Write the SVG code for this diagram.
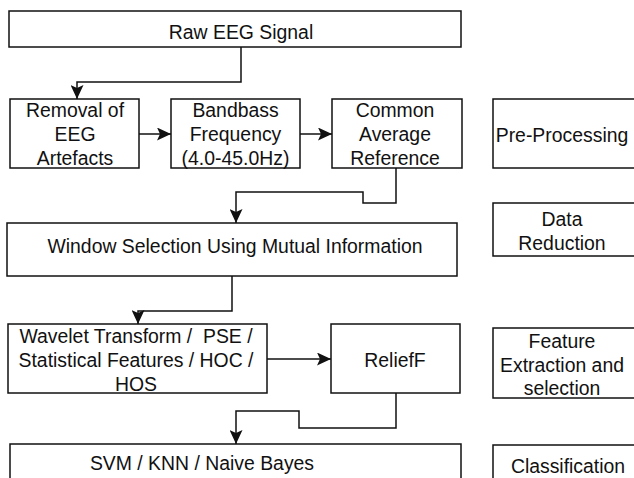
<svg xmlns="http://www.w3.org/2000/svg" width="634" height="478" viewBox="0 0 634 478">
  <style>
    .box { fill: #ffffff; stroke: #111111; stroke-width: 1.5; }
    .lbl { font-family: "Liberation Sans", Arial, Helvetica, sans-serif; font-size: 19.4px; fill: #111111; text-anchor: middle; white-space: pre; }
    .edge { fill: none; stroke: #111111; stroke-width: 1.5; }
  </style>
  <defs>
    <marker id="arrow" markerUnits="userSpaceOnUse" markerWidth="15" markerHeight="13" refX="14" refY="6.5" orient="auto">
      <path d="M0,0 L14,6.5 L0,13 L3,6.5 Z" fill="#111111"/>
    </marker>
  </defs>

  <rect width="634" height="478" fill="#ffffff"/>

  <!-- pipeline steps -->
  <g id="raw-eeg">
    <rect class="box" x="9" y="11" width="452" height="36"/>
    <text class="lbl" x="241" y="38.5">Raw EEG Signal</text>
  </g>
  <g id="removal-artefacts">
    <rect class="box" x="10" y="99" width="129" height="69"/>
    <text class="lbl" x="75" y="117">Removal of</text>
    <text class="lbl" x="75" y="141">EEG</text>
    <text class="lbl" x="75" y="165">Artefacts</text>
  </g>
  <g id="bandpass">
    <rect class="box" x="171" y="99" width="129" height="69"/>
    <text class="lbl" x="235.5" y="117">Bandbass</text>
    <text class="lbl" x="235.5" y="141">Frequency</text>
    <text class="lbl" x="235.5" y="165">(4.0-45.0Hz)</text>
  </g>
  <g id="car">
    <rect class="box" x="332" y="99" width="130" height="69"/>
    <text class="lbl" x="395" y="117">Common</text>
    <text class="lbl" x="395" y="141">Average</text>
    <text class="lbl" x="395" y="165">Reference</text>
  </g>
  <g id="window-selection">
    <rect class="box" x="7" y="223" width="450" height="53"/>
    <text class="lbl" x="235" y="253">Window Selection Using Mutual Information</text>
  </g>
  <g id="features">
    <rect class="box" x="8" y="324" width="259" height="69"/>
    <text class="lbl" x="136" y="343">Wavelet Transform /  PSE /</text>
    <text class="lbl" x="136" y="367">Statistical Features / HOC /</text>
    <text class="lbl" x="136" y="391">HOS</text>
  </g>
  <g id="relieff">
    <rect class="box" x="331" y="324" width="129" height="69"/>
    <text class="lbl" x="395" y="367">ReliefF</text>
  </g>
  <g id="classifiers">
    <rect class="box" x="10" y="444" width="451" height="50"/>
    <text class="lbl" x="202" y="470">SVM / KNN / Naive Bayes</text>
  </g>

  <!-- stage labels -->
  <g id="stage-preprocessing">
    <rect class="box" x="493" y="99" width="150" height="69"/>
    <text class="lbl" x="562" y="141.5">Pre-Processing</text>
  </g>
  <g id="stage-reduction">
    <rect class="box" x="493" y="203" width="150" height="53"/>
    <text class="lbl" x="562" y="226">Data</text>
    <text class="lbl" x="562" y="249.5">Reduction</text>
  </g>
  <g id="stage-features">
    <rect class="box" x="493" y="328" width="150" height="70"/>
    <text class="lbl" x="562" y="348">Feature</text>
    <text class="lbl" x="562" y="372">Extraction and</text>
    <text class="lbl" x="562" y="395">selection</text>
  </g>
  <g id="stage-classification">
    <rect class="box" x="493" y="445" width="150" height="50"/>
    <text class="lbl" x="568" y="473">Classification</text>
  </g>

  <!-- connectors -->
  <g id="connectors">
    <path class="edge" d="M241,47 V82 H77 V99" marker-end="url(#arrow)"/>
    <path class="edge" d="M139,134 H171" marker-end="url(#arrow)"/>
    <path class="edge" d="M300,134 H332" marker-end="url(#arrow)"/>
    <path class="edge" d="M396,168 V203 H363 V192 H236 V223" marker-end="url(#arrow)"/>
    <path class="edge" d="M232,276 V311 H138 V324" marker-end="url(#arrow)"/>
    <path class="edge" d="M267,359 H331" marker-end="url(#arrow)"/>
    <path class="edge" d="M396,393 V428 H299 V411 H236 V444" marker-end="url(#arrow)"/>
  </g>
</svg>
